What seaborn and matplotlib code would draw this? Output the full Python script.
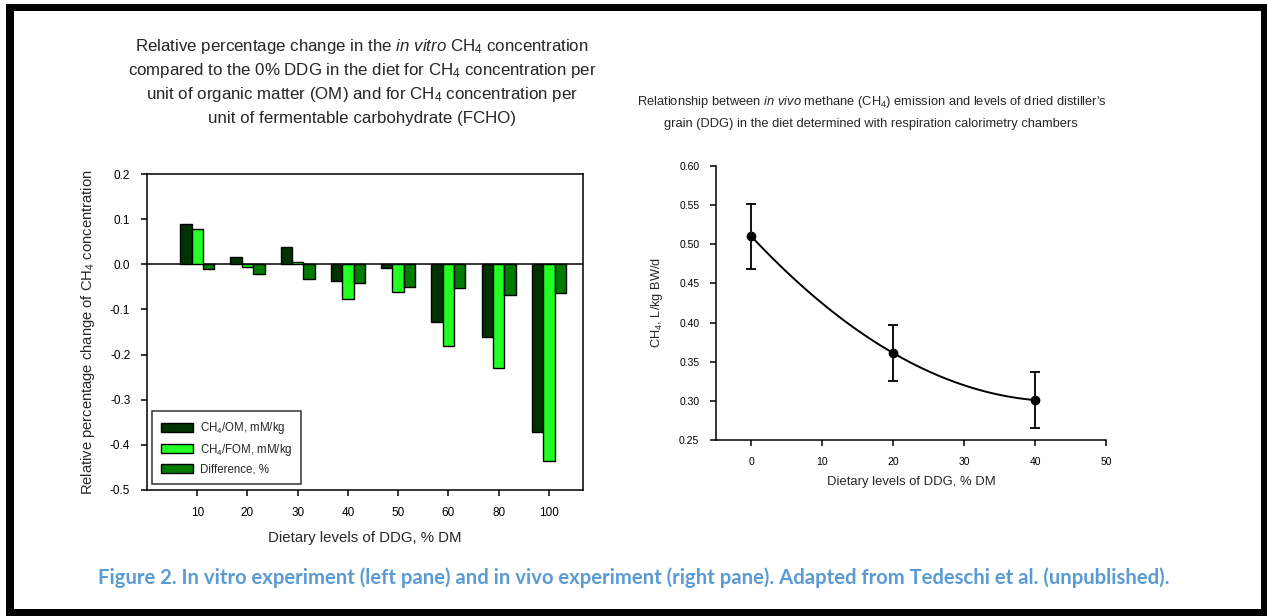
import matplotlib
matplotlib.use("Agg")
import matplotlib.pyplot as plt
import seaborn as sns
import pandas as pd
import numpy as np
from matplotlib.patches import Rectangle, Patch

# ---------------- data ----------------
levels = ["10", "20", "30", "40", "50", "60", "80", "100"]
ch4_om = [0.090, 0.016, 0.038, -0.036, -0.009, -0.128, -0.162, -0.372]
ch4_fom = [0.079, -0.005, 0.006, -0.077, -0.061, -0.181, -0.230, -0.436]
difference = [-0.011, -0.022, -0.033, -0.042, -0.051, -0.053, -0.068, -0.064]
series_names = ["CH$_4$/OM, mM/kg", "CH$_4$/FOM, mM/kg", "Difference, %"]
bar_colors = ["#003300", "#22ff22", "#007a00"]

vivo_ddg = [0, 20, 40]
vivo_ch4 = [0.510, 0.361, 0.301]
vivo_err = [0.042, 0.036, 0.036]

# ---------------- style ----------------
sns.set_theme(style="ticks")
plt.rcParams["font.family"] = ["Liberation Sans", "DejaVu Sans"]
plt.rcParams["mathtext.fontset"] = "custom"
plt.rcParams["mathtext.rm"] = "Liberation Sans"
plt.rcParams["mathtext.it"] = "Liberation Sans:italic"
plt.rcParams["axes.linewidth"] = 1.1
plt.rcParams["xtick.major.width"] = 1.1
plt.rcParams["ytick.major.width"] = 1.1

W, H = 1267, 616
fig = plt.figure(figsize=(W / 100, H / 100), dpi=100)
fig.patch.set_facecolor("white")

def fx(px):
    return px / W

def fy(py):
    return 1 - py / H

# ---------------- left pane ----------------
axL = fig.add_axes([fx(147), fy(490), fx(583) - fx(147), fy(174) - fy(490)])
df = pd.DataFrame({
    "level": levels * 3,
    "value": ch4_om + ch4_fom + difference,
    "series": [series_names[0]] * 8 + [series_names[1]] * 8 + [series_names[2]] * 8,
})
sns.barplot(data=df, x="level", y="value", hue="series", order=levels,
            hue_order=series_names, palette=bar_colors, edgecolor="black",
            linewidth=1.0, width=0.68, saturation=1, ax=axL, legend=False)
axL.axhline(0, color="black", lw=1.1, zorder=0.5)
axL.set_xlim(-1.0, 7.68)
axL.set_ylim(-0.5, 0.2)
axL.set_yticks(np.arange(-0.5, 0.21, 0.1))
axL.set_yticklabels(["-0.5", "-0.4", "-0.3", "-0.2", "-0.1", "0.0", "0.1", "0.2"])
for s in axL.spines.values():
    s.set_visible(True)
    s.set_color("black")
axL.tick_params(axis="both", direction="out", length=4, labelsize=8.5, colors="black", pad=8)
axL.set_xlabel("Dietary levels of DDG, % DM", fontsize=10.8, labelpad=9)
axL.set_ylabel("Relative percentage change of CH$_4$ concentration", fontsize=10.6, labelpad=9)
handles = [Patch(facecolor=c, edgecolor="black", linewidth=1.0) for c in bar_colors]
leg = axL.legend(handles, series_names, loc="lower left", bbox_to_anchor=(0.012, 0.018),
                 fontsize=8.3, frameon=True, fancybox=False, edgecolor="black",
                 handlelength=2.8, handleheight=0.8, borderpad=0.75, labelspacing=0.5,
                 handletextpad=0.6, borderaxespad=0)
leg.get_frame().set_linewidth(1.1)

left_title = [
    "Relative percentage change in the $\\mathit{in\\ vitro}$ CH$_4$ concentration",
    "compared to the 0% DDG in the diet for CH$_4$ concentration per",
    "unit of organic matter (OM) and for CH$_4$ concentration per",
    "unit of fermentable carbohydrate (FCHO)",
]
for i, line in enumerate(left_title):
    fig.text(fx(362), fy(46 + i * 24), line, ha="center", va="center", fontsize=12.2)

# ---------------- right pane ----------------
axR = fig.add_axes([fx(716), fy(440), fx(1106) - fx(716), fy(166) - fy(440)])
sns.regplot(x=vivo_ddg, y=vivo_ch4, order=2, ci=None, scatter=False, truncate=True,
            line_kws={"color": "black", "lw": 1.4}, ax=axR)
axR.errorbar(vivo_ddg, vivo_ch4, yerr=vivo_err, fmt="o", color="black", ms=6,
             capsize=3.6, elinewidth=1.3, capthick=1.3, zorder=3)
axR.set_xlim(-5, 50)
axR.set_ylim(0.25, 0.60)
axR.set_xticks(range(0, 51, 10))
axR.set_yticks(np.arange(0.25, 0.601, 0.05))
axR.set_yticklabels([f"{v:.2f}" for v in np.arange(0.25, 0.601, 0.05)])
sns.despine(ax=axR)
for s in axR.spines.values():
    s.set_color("black")
axR.tick_params(axis="both", direction="out", length=4, labelsize=7.5, colors="black", pad=8)
axR.set_xlabel("Dietary levels of DDG, % DM", fontsize=9.4, labelpad=7)
axR.set_ylabel("CH$_4$, L/kg BW/d", fontsize=9.2, labelpad=10)

fig.text(fx(872), fy(102), "Relationship between $\\mathit{in\\ vivo}$ methane (CH$_4$) emission and levels of dried distiller's",
         ha="center", va="center", fontsize=9.3)
fig.text(fx(871), fy(124), "grain (DDG) in the diet determined with respiration calorimetry chambers",
         ha="center", va="center", fontsize=9.3)

# ---------------- caption ----------------
fig.text(fx(634), fy(578),
         "Figure 2. In vitro experiment (left pane) and in vivo experiment (right pane). Adapted from Tedeschi et al. (unpublished).",
         ha="center", va="center", fontsize=14.6, fontweight="bold", color="#5b9bd5",
         family=["Lato", "DejaVu Sans"])

# ---------------- frame ----------------
fig.patches.append(Rectangle((fx(6), 0), 1 - fx(6), fy(4),
                             transform=fig.transFigure, facecolor="black", edgecolor="none", zorder=-2))
fig.patches.append(Rectangle((fx(14), fy(609)), fx(1261) - fx(14), fy(11) - fy(609),
                             transform=fig.transFigure, facecolor="white", edgecolor="none", zorder=-1))

fig.savefig("out.png", dpi=100, facecolor="white")
